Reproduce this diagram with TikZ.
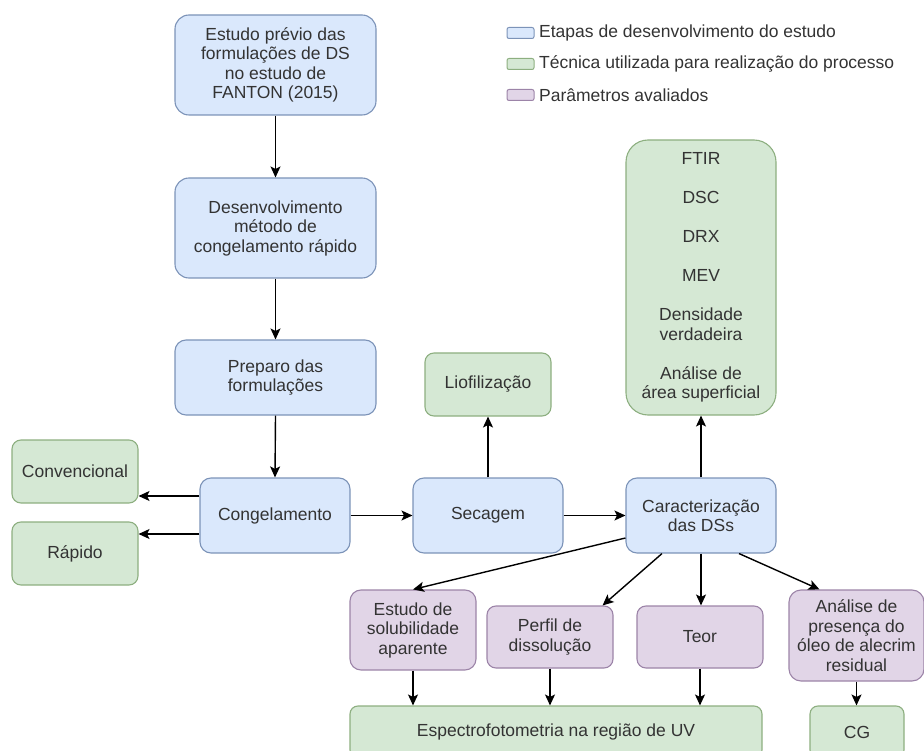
\documentclass[tikz,border=0pt]{standalone}
\usepackage{fontspec}
\setmainfont{Liberation Sans}
\usetikzlibrary{arrows.meta}
\definecolor{bfill}{HTML}{DAE8FC}
\definecolor{bdraw}{HTML}{7C93B8}
\definecolor{gfill}{HTML}{D5E8D4}
\definecolor{gdraw}{HTML}{8DAF80}
\definecolor{pfill}{HTML}{E1D5E7}
\definecolor{pdraw}{HTML}{9C84A8}
\definecolor{txt}{HTML}{333333}
\begin{document}
\begin{tikzpicture}[x=1pt,y=-1pt,
  box/.style={rectangle, rounded corners=10pt, line width=1.1pt, align=center,
    inner sep=0pt, text=txt, font=\fontsize{17.5}{19.5}\selectfont},
  etapa/.style={box, fill=bfill, draw=bdraw},
  tecnica/.style={box, fill=gfill, draw=gdraw},
  param/.style={box, fill=pfill, draw=pdraw},
  legrect/.style={rectangle, rounded corners=2pt, line width=1pt, minimum width=27pt, minimum height=11pt, inner sep=0pt},
  legtext/.style={anchor=west, inner sep=0pt, text=txt, font=\fontsize{17.5}{19.5}\selectfont},
  arr/.style={-{Stealth[length=11pt,width=10pt,inset=2.5pt]}, line width=1.4pt, black},
]
\useasboundingbox (0,0) rectangle (924,751);
\clip (0,0) rectangle (924,751);

% legend
\node[legrect, fill=bfill, draw=bdraw] (l1) at (520.5,33) {};
\node[legtext] (t1) at (539,33) {Etapas de desenvolvimento do estudo};
\node[legrect, fill=gfill, draw=gdraw] (l2) at (520.5,64) {};
\node[legtext] (t2) at (539,64) {Técnica utilizada para realização do processo};
\node[legrect, fill=pfill, draw=pdraw] (l3) at (520.5,95) {};
\node[legtext] (t3) at (539,95) {Parâmetros avaliados};

% main column
\node[etapa, rounded corners=14pt, minimum width=201pt, minimum height=100pt] (a) at (275.5,65)
  {Estudo prévio das\\formulações de DS\\no estudo de\\FANTON (2015)};
\node[etapa, rounded corners=14pt, minimum width=201pt, minimum height=100pt] (b) at (275.5,228)
  {Desenvolvimento\\método de\\congelamento rápido};
\node[etapa, rounded corners=11pt, minimum width=201pt, minimum height=75pt] (c) at (275.5,377.5)
  {Preparo das\\formulações};
\node[etapa, rounded corners=11pt, minimum width=150pt, minimum height=75pt] (cong) at (275,515.5)
  {Congelamento};
\node[tecnica, rounded corners=9pt, minimum width=126pt, minimum height=63pt] (conv) at (75,471.5)
  {Convencional};
\node[tecnica, rounded corners=9pt, minimum width=126pt, minimum height=63pt] (rap) at (75,553.5)
  {Rápido};
\node[etapa, rounded corners=11pt, minimum width=150pt, minimum height=75pt] (sec) at (488,515.5)
  {Secagem};
\node[tecnica, rounded corners=9pt, minimum width=126pt, minimum height=63pt] (lio) at (488,384.5)
  {Liofilização};
\node[etapa, rounded corners=11pt, minimum width=150pt, minimum height=75pt] (car) at (701,515.5)
  {Caracterização\\das DSs};
\node[tecnica, rounded corners=22pt, minimum width=150pt, minimum height=275pt] (big) at (701,277.5)
  {FTIR\\[19.5pt]DSC\\[19.5pt]DRX\\[19.5pt]MEV\\[19.5pt]Densidade\\verdadeira\\[19.5pt]Análise de\\área superficial};

% parameters
\node[param, rounded corners=11pt, minimum width=126pt, minimum height=80pt] (est) at (413,630)
  {Estudo de\\solubilidade\\aparente};
\node[param, rounded corners=9pt, minimum width=126pt, minimum height=62pt] (per) at (550,637)
  {Perfil de\\dissolução};
\node[param, rounded corners=9pt, minimum width=126pt, minimum height=62pt] (teo) at (700,637)
  {Teor};
\node[param, rounded corners=12pt, minimum width=135pt, minimum height=91pt] (ana) at (856.5,635.5)
  {Análise de\\presença do\\óleo de alecrim\\residual};
\node[tecnica, rounded corners=8pt, minimum width=412pt, minimum height=52pt] (esp) at (556,732)
  {Espectrofotometria na região de UV};
\node[tecnica, rounded corners=8pt, minimum width=94pt, minimum height=52pt] (cg) at (857,732)
  {CG};

% connectors
\draw[arr] (a.south) -- (b.north);
\draw[arr] (b.south) -- (c.north);
\draw[arr] (c.south) -- (cong.north);
\coordinate (k1) at ([yshift=19.5pt]cong.west);
\coordinate (k2) at ([yshift=-18.5pt]cong.west);
\draw[arr] (k1) -- (k1 -| conv.east);
\draw[arr] (k2) -- (k2 -| rap.east);
\draw[arr] (cong.east) -- (sec.west);
\draw[arr] (sec.east) -- (car.west);
\draw[arr] (sec.north) -- (lio.south);
\draw[arr] (car.north) -- (big.south);
\draw[arr] ([yshift=-22.5pt]car.west) -- (est.north);
\draw[arr] ([xshift=-39pt]car.south) -- ([xshift=-11pt]per.north east);
\draw[arr] (car.south) -- (car.south |- teo.north);
\draw[arr] ([xshift=38pt]car.south) -- ([xshift=-37pt]ana.north);
\draw[arr] (est.south) -- (est.south |- esp.north);
\draw[arr] (per.south) -- (per.south |- esp.north);
\draw[arr] (teo.south) -- (teo.south |- esp.north);
\draw[arr] (ana.south) -- (ana.south |- cg.north);
\end{tikzpicture}
\end{document}
